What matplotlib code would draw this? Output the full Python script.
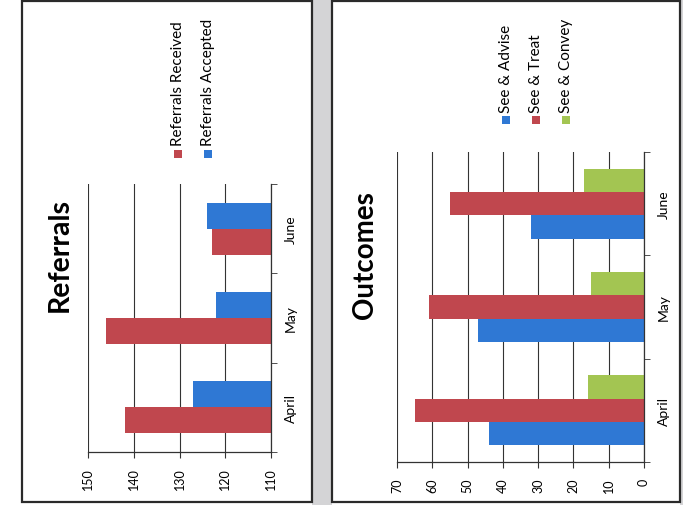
"""Two rotated bar charts (Referrals / Outcomes), scanned-page look."""

import matplotlib

matplotlib.use("Agg")
import matplotlib.pyplot as plt
from matplotlib.patches import Rectangle
import numpy as np

W, H = 683, 506

months = ["April", "May", "June"]
referrals_received = [142, 146, 123]
referrals_accepted = [127, 122, 124]
see_advise = [44, 47, 32]
see_treat = [65, 61, 55]
see_convey = [16, 15, 17]

RED = "#C0474E"
BLUE = "#2F78D4"
GREEN = "#A3C552"
FONT = "Lato"

plt.rcParams["font.family"] = [FONT, "DejaVu Sans"]


def fx(px):
    return px / W


def fy(py):
    return 1 - py / H


def style_axes(ax, xmin, xmax, step):
    ax.set_xlim(xmax, xmin)
    ax.set_ylim(-0.5, len(months) - 0.5)
    ax.set_xticks(np.arange(xmin, xmax + 1, step))
    ax.tick_params(axis="x", labelrotation=90, labelsize=9, length=4,
                   direction="out", pad=7, color="#333333")
    ax.grid(axis="x", color="#333333", lw=0.8)
    ax.set_axisbelow(True)
    ax.yaxis.tick_right()
    ax.set_yticks(np.arange(len(months)))
    ax.set_yticklabels(months, rotation=90, va="center", fontsize=10)
    ax.set_yticks(np.arange(len(months) + 1) - 0.5, minor=True)
    ax.tick_params(axis="y", which="major", length=0, pad=10)
    ax.tick_params(axis="y", which="minor", length=4, color="#333333")
    ax.spines["top"].set_visible(False)
    ax.spines["left"].set_visible(False)
    for s in ("right", "bottom"):
        ax.spines[s].set_color("#333333")
        ax.spines[s].set_linewidth(0.9)


fig = plt.figure(figsize=(W / 100, H / 100), dpi=100)
fig.patch.set_facecolor("white")

# scanner-grey strips between / beside the page panels
for x0, x1 in [(312, 332), (680, 683)]:
    fig.patches.append(Rectangle((fx(x0), 0), fx(x1) - fx(x0), 1,
                                 transform=fig.transFigure, facecolor="#d4d4d6",
                                 edgecolor="none", zorder=-11))
for x0, x1 in [(22, 312), (332, 680)]:
    fig.patches.append(Rectangle((fx(x0), fy(503)), fx(x1) - fx(x0), fy(2) - fy(503),
                                 transform=fig.transFigure, facecolor="white",
                                 edgecolor="#2a2a2a", lw=1.6, zorder=-10))

# ── Referrals ──
ax1 = fig.add_axes([fx(88), fy(453), fx(271) - fx(88), fy(185) - fy(453)])
ax1.patch.set_alpha(0)
y = np.arange(len(months))
hb = 0.29
base = 110
ax1.barh(y - hb / 2, np.array(referrals_received) - base, left=base, height=hb, color=RED)
ax1.barh(y + hb / 2, np.array(referrals_accepted) - base, left=base, height=hb, color=BLUE)
style_axes(ax1, 110, 150, 10)

fig.text(fx(60), fy(255), "Referrals", rotation=90, ha="center", va="center",
         fontsize=20.5, fontweight="bold")

for i, (lab, col) in enumerate([("Referrals Received", RED), ("Referrals Accepted", BLUE)]):
    cx = 178 + 30 * i
    fig.patches.append(Rectangle((fx(cx - 4), fy(159)), fx(8), fy(151) - fy(159),
                                 transform=fig.transFigure, facecolor=col, edgecolor="none"))
    fig.text(fx(cx), fy(146), lab, rotation=90, ha="center", va="bottom", fontsize=11)

# ── Outcomes ──
ax2 = fig.add_axes([fx(397), fy(463), fx(644) - fx(397), fy(153) - fy(463)])
ax2.patch.set_alpha(0)
hb = 0.225
ax2.barh(y - hb, see_advise, height=hb, color=BLUE)
ax2.barh(y, see_treat, height=hb, color=RED)
ax2.barh(y + hb, see_convey, height=hb, color=GREEN)
style_axes(ax2, 0, 70, 10)

fig.text(fx(365), fy(255), "Outcomes", rotation=90, ha="center", va="center",
         fontsize=20, fontweight="bold")

for i, (lab, col) in enumerate([("See & Advise", BLUE), ("See & Treat", RED),
                                ("See & Convey", GREEN)]):
    cx = 506 + 30 * i
    fig.patches.append(Rectangle((fx(cx - 4), fy(125)), fx(8), fy(117) - fy(125),
                                 transform=fig.transFigure, facecolor=col, edgecolor="none"))
    fig.text(fx(cx), fy(113), lab, rotation=90, ha="center", va="bottom", fontsize=11)

fig.savefig("out.png", dpi=100)
